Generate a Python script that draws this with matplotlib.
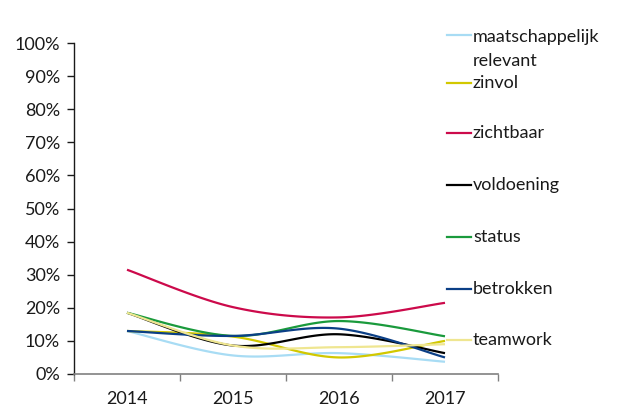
import numpy as np
import matplotlib.pyplot as plt
from matplotlib.lines import Line2D

plt.rcParams['font.family'] = ['Lato', 'DejaVu Sans']

# survey scores per year (share of respondents)
years = ['2014', '2015', '2016', '2017']
labels = ['maatschappelijk\nrelevant', 'zinvol', 'zichtbaar', 'voldoening',
          'status', 'betrokken', 'teamwork']
maatschappelijk = [0.130, 0.056, 0.063, 0.037]
zinvol = [0.130, 0.113, 0.050, 0.100]
zichtbaar = [0.315, 0.202, 0.171, 0.215]
voldoening = [0.185, 0.086, 0.120, 0.063]
status = [0.185, 0.115, 0.160, 0.114]
betrokken = [0.130, 0.115, 0.137, 0.050]
teamwork = [0.185, 0.086, 0.081, 0.090]

series = [maatschappelijk, zinvol, zichtbaar, voldoening, status, betrokken, teamwork]
colors = ['#a8dcf4', '#d2c800', '#cc0a4b', '#000000', '#1a9a3c', '#0b3f86', '#efe691']
FS = 13


def smooth(x, y, n=40):
    # Catmull-Rom style bezier, like a spreadsheet "smoothed line"
    x = np.asarray(x, float)
    y = np.asarray(y, float)
    px = np.concatenate([[x[0]], x, [x[-1]]])
    py = np.concatenate([[y[0]], y, [y[-1]]])
    t = np.linspace(0, 1, n)[:, None]
    out_x, out_y = [], []
    for i in range(1, len(px) - 2):
        p0 = np.array([px[i], py[i]])
        p3 = np.array([px[i + 1], py[i + 1]])
        c1 = p0 + (np.array([px[i + 1], py[i + 1]]) - np.array([px[i - 1], py[i - 1]])) / 6
        c2 = p3 - (np.array([px[i + 2], py[i + 2]]) - np.array([px[i], py[i]])) / 6
        pts = ((1 - t) ** 3) * p0 + 3 * ((1 - t) ** 2) * t * c1 + 3 * (1 - t) * t ** 2 * c2 + t ** 3 * p3
        out_x.append(pts[:, 0])
        out_y.append(pts[:, 1])
    return np.concatenate(out_x), np.concatenate(out_y)


fig = plt.figure(figsize=(6.31, 4.08), dpi=100)
ax = fig.add_axes([74 / 631, 34 / 408, 424 / 631, 331 / 408])

xpos = np.arange(len(years)) + 0.5
for vals, col in zip(series, colors):
    sx, sy = smooth(xpos, vals)
    ax.plot(sx, sy, color=col, lw=1.6, solid_capstyle='butt')

ax.set_xlim(0, len(years))
ax.set_ylim(0, 1)
ax.set_yticks(np.arange(0, 1.01, 0.1))
ax.set_yticklabels([f'{int(round(v * 100))}%' for v in np.arange(0, 1.01, 0.1)])
ax.set_xticks(np.arange(0, len(years) + 1))
ax.set_xticklabels([])
ax.set_xticks(xpos, minor=True)
ax.set_xticklabels(years, minor=True)
ax.tick_params(axis='x', which='minor', length=0, pad=12, labelsize=FS, colors='#1a1a1a')
ax.tick_params(axis='x', which='major', length=5, width=1, color='#808080')
ax.tick_params(axis='y', length=5, width=1, pad=5, labelsize=FS, colors='#1a1a1a')

for side in ['top', 'right']:
    ax.spines[side].set_visible(False)
ax.spines['left'].set_color('#1a1a1a')
ax.spines['bottom'].set_color('#808080')
ax.spines['left'].set_linewidth(1)
ax.spines['bottom'].set_linewidth(1.2)

# legend on the right, one slot per series
slots = [35, 83, 133, 185, 237, 289, 340]
for lab, col, ypx in zip(labels, colors, slots):
    yf = 1 - ypx / 408
    fig.add_artist(Line2D([447 / 631, 471 / 631], [yf, yf], color=col, lw=1.6,
                          transform=fig.transFigure))
    fig.text(473 / 631, yf + (6 / 408 if '\n' in lab else 0), lab, ha='left',
             va='top' if '\n' in lab else 'center',
             fontsize=FS, color='#1a1a1a', linespacing=1.6,
             transform=fig.transFigure)

fig.savefig('out.png', dpi=100)
